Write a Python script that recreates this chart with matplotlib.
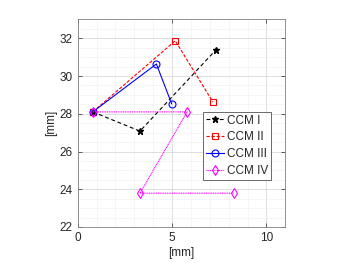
import matplotlib
matplotlib.use("Agg")
import matplotlib.pyplot as plt
from matplotlib.ticker import MultipleLocator

plt.rcParams['font.family'] = ['Liberation Sans', 'DejaVu Sans']

labels = ["CCM I", "CCM II", "CCM III", "CCM IV"]
x_ccm1 = [0.8, 3.3, 7.32]
y_ccm1 = [28.1, 27.08, 31.38]
x_ccm2 = [0.8, 5.17, 7.17]
y_ccm2 = [28.1, 31.87, 28.62]
x_ccm3 = [0.8, 4.17, 4.98]
y_ccm3 = [28.1, 30.64, 28.53]
x_ccm4 = [0.8, 5.8, 3.3, 8.27]
y_ccm4 = [28.1, 28.1, 23.79, 23.79]

fig = plt.figure(figsize=(3.5, 2.63), dpi=100)
ax = fig.add_axes([0.222, 0.137, 0.593, 0.789])

ax.plot(x_ccm1, y_ccm1, color='k', linestyle=(0, (3.5, 2.5)), lw=0.8,
        marker='*', ms=4.5, label=labels[0])
ax.plot(x_ccm2, y_ccm2, color='#ff0000', linestyle=(0, (3, 1.5)), lw=0.8,
        marker='s', ms=4.5, mfc='none', mew=0.8, label=labels[1])
ax.plot(x_ccm3, y_ccm3, color='#0000ff', linestyle='-', lw=0.8,
        marker='o', ms=5, mfc='none', mew=0.8, label=labels[2])
ax.plot(x_ccm4, y_ccm4, color='#ff00ff', linestyle=(0, (1, 0.6)), lw=0.8,
        marker='d', ms=5, mfc='none', mew=0.8, label=labels[3])

ax.set_xlim(0, 11)
ax.set_ylim(22, 33)
ax.xaxis.set_major_locator(MultipleLocator(5))
ax.xaxis.set_minor_locator(MultipleLocator(1))
ax.yaxis.set_major_locator(MultipleLocator(2))
ax.yaxis.set_minor_locator(MultipleLocator(0.5))

ax.grid(which='major', color='#d9d9d9', lw=0.6)
ax.grid(which='minor', color='#e6e6e6', lw=0.5, linestyle=(0, (1, 1)))
ax.set_axisbelow(True)

for s in ax.spines.values():
    s.set_color('#808080')
    s.set_linewidth(0.6)
ax.tick_params(which='both', direction='in', colors='#262626', labelsize=8.5,
               top=True, right=True, width=0.5)
ax.tick_params(which='major', length=3)
ax.tick_params(which='minor', length=0)

ax.set_xlabel('[mm]', fontsize=8.5, color='#262626', labelpad=2)
ax.set_ylabel('[mm]', fontsize=8.5, color='#262626', labelpad=2)

leg = ax.legend(loc='upper left', bbox_to_anchor=(0.605, 0.556), fontsize=8.5,
                frameon=True, fancybox=False, edgecolor='#262626',
                handlelength=1.5, handletextpad=0.25, borderpad=0.25,
                labelspacing=0.4, borderaxespad=0)
leg.get_frame().set_linewidth(0.6)
for t in leg.get_texts():
    t.set_color('#262626')

fig.savefig('out.png', dpi=100)
